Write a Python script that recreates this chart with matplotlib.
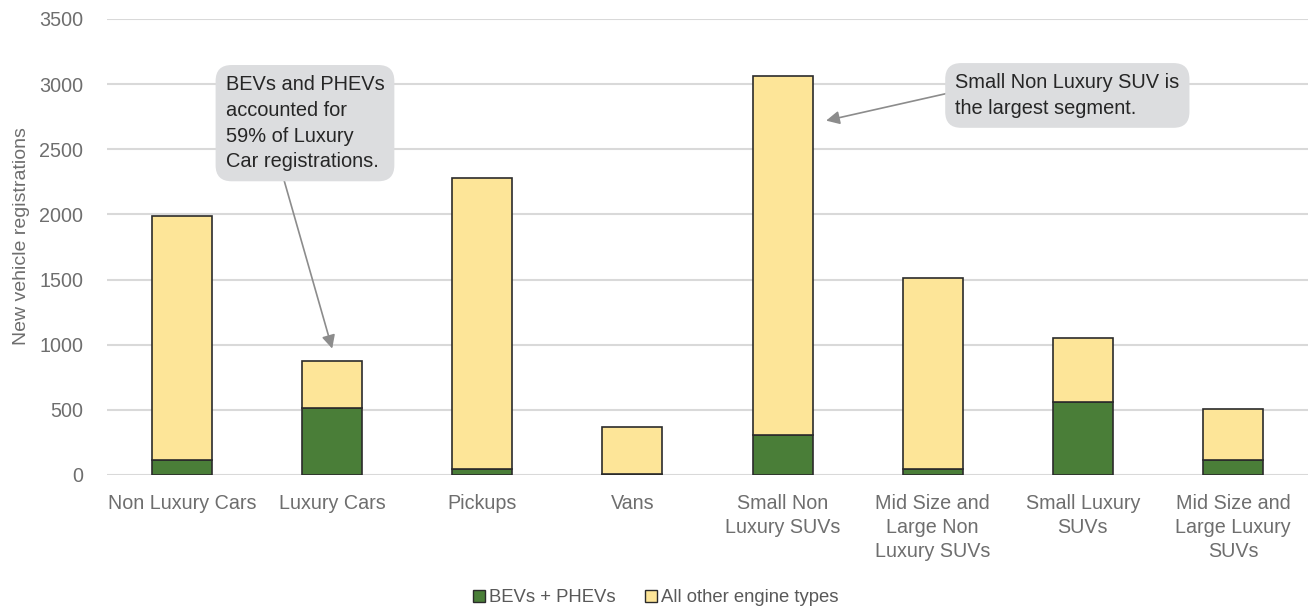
import matplotlib
matplotlib.use("Agg")
import matplotlib.pyplot as plt
from matplotlib.patches import Patch

categories = ["Non Luxury Cars", "Luxury Cars", "Pickups", "Vans",
              "Small Non\nLuxury SUVs", "Mid Size and\nLarge Non\nLuxury SUVs",
              "Small Luxury\nSUVs", "Mid Size and\nLarge Luxury\nSUVs"]
bev_phev = [115, 515, 46, 8, 309, 48, 560, 113]
totals = [1988, 877, 2279, 366, 3064, 1512, 1054, 509]
other = [t - b for t, b in zip(totals, bev_phev)]
yticks = [0, 500, 1000, 1500, 2000, 2500, 3000, 3500]

plt.rcParams['font.family'] = ['Liberation Sans', 'DejaVu Sans']

GREEN = "#4a7e38"
YELLOW = "#fde598"
EDGE = "#2b2b2b"
TICK = "#6e6e6e"

fig = plt.figure(figsize=(13.08, 6.10), dpi=100)
ax = fig.add_axes([107/1308, 135/610, 1201/1308, 456/610])

x = list(range(len(categories)))
ax.bar(x, bev_phev, width=0.4, color=GREEN, edgecolor=EDGE, linewidth=1.2, zorder=3,
       label="BEVs + PHEVs")
ax.bar(x, other, width=0.4, bottom=bev_phev, color=YELLOW, edgecolor=EDGE, linewidth=1.2,
       zorder=3, label="All other engine types")

ax.set_xlim(-0.5, 7.5)
ax.set_ylim(0, 3500)
ax.set_yticks(yticks)
ax.yaxis.grid(True, color="#d9d9d9", linewidth=1.5, zorder=0)
ax.set_axisbelow(True)
for s in ax.spines.values():
    s.set_visible(False)
ax.tick_params(axis='both', length=0, labelsize=14.2, labelcolor=TICK)
ax.tick_params(axis='y', pad=17)
ax.tick_params(axis='x', pad=14)
ax.set_xticks(x)
ax.set_xticklabels(categories, linespacing=1.33)
ax.set_ylabel("New vehicle registrations", fontsize=14, color=TICK)
ax.yaxis.set_label_coords(-77/1201, (475 - 236.5) / 456)

bbox = dict(boxstyle="round,pad=0.5,rounding_size=0.8", fc="#dcdddf", ec="none")
arrowprops = dict(arrowstyle="-|>", color="#8c8c8c", lw=1.2, mutation_scale=20, shrinkA=0, shrinkB=0)

ax.annotate("", xy=(1.0, 970), xytext=(0.675, 2280), arrowprops=arrowprops, zorder=5)
ax.text(0.29, 3070, "BEVs and PHEVs\naccounted for\n59% of Luxury\nCar registrations.",
        fontsize=14.4, color="#262626", va="top", ha="left", linespacing=1.45,
        bbox=bbox, zorder=6)

ax.annotate("", xy=(4.29, 2720), xytext=(5.1, 2930), arrowprops=arrowprops, zorder=5)
ax.text(5.15, 3085, "Small Non Luxury SUV is\nthe largest segment.",
        fontsize=14.4, color="#262626", va="top", ha="left", linespacing=1.45,
        bbox=bbox, zorder=6)

handles = [Patch(facecolor=GREEN, edgecolor=EDGE, label="BEVs + PHEVs"),
           Patch(facecolor=YELLOW, edgecolor=EDGE, label="All other engine types")]
leg = fig.legend(handles=handles, loc="center", bbox_to_anchor=(656/1308, 1 - 598/610),
                 ncol=2, frameon=False, fontsize=13.3, handlelength=0.65, handleheight=0.65,
                 handletextpad=0.2, columnspacing=1.6)
for t in leg.get_texts():
    t.set_color("#595959")

fig.savefig("out.png", dpi=100)
